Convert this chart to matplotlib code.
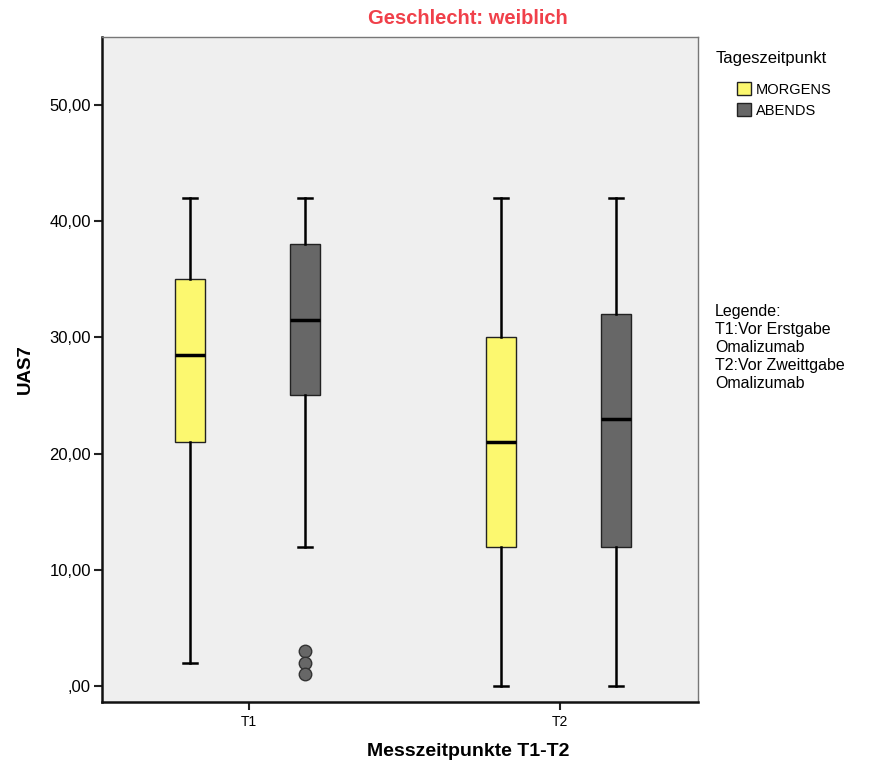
import matplotlib
matplotlib.use("Agg")
import matplotlib.pyplot as plt
from matplotlib.patches import Patch

plt.rcParams['font.family'] = ['Liberation Sans', 'DejaVu Sans']

categories = ["T1", "T2"]
groups = ["MORGENS", "ABENDS"]
colors = {"MORGENS": "#FCF86F", "ABENDS": "#676767"}

# stats: whislo, q1, med, q3, whishi, outliers
morgens_stats = [
    [2, 21, 28.5, 35, 42, []],
    [0, 12, 21, 30, 42, []],
]
abends_stats = [
    [12, 25, 31.5, 38, 42, [3, 2, 1]],
    [0, 12, 23, 32, 42, []],
]
yticks = [0, 10, 20, 30, 40, 50]
ytick_labels = [",00", "10,00", "20,00", "30,00", "40,00", "50,00"]

fig = plt.figure(figsize=(8.92, 7.67), dpi=100)
ax = fig.add_axes([102/892, 1-702/767, (698-102)/892, (702-37)/767])
ax.set_facecolor("#EFEFEF")

offsets = {"MORGENS": -0.19, "ABENDS": 0.18}
width = 0.094
for g, stats_list in (("MORGENS", morgens_stats), ("ABENDS", abends_stats)):
    st = []
    for s in stats_list:
        st.append(dict(whislo=s[0], q1=s[1], med=s[2], q3=s[3], whishi=s[4], fliers=s[5]))
    pos = [i + offsets[g] for i in range(len(categories))]
    ax.bxp(st, positions=pos, widths=width, patch_artist=True, manage_ticks=False,
           boxprops=dict(facecolor=colors[g], edgecolor="#222222", linewidth=1.0),
           medianprops=dict(color="black", linewidth=2.5),
           whiskerprops=dict(color="black", linewidth=1.8),
           capprops=dict(color="black", linewidth=1.8),
           capwidths=width / 2,
           flierprops=dict(marker="o", markerfacecolor="#676767", markeredgecolor="#333333",
                           markersize=9, markeredgewidth=1.0))

ax.set_xlim(-0.473, 1.444)
ax.set_ylim(-1.38, 55.85)
ax.set_xticks(range(len(categories)))
ax.set_xticklabels(categories, fontsize=10)
ax.set_yticks(yticks)
ax.set_yticklabels(ytick_labels, fontsize=12)
ax.tick_params(axis='both', length=6, width=1.5, color="#222222")
ax.tick_params(axis='x', pad=3)
ax.tick_params(axis='y', pad=2)
for sp in ["left", "bottom"]:
    ax.spines[sp].set_linewidth(1.8)
    ax.spines[sp].set_color("#111111")
for sp in ["top", "right"]:
    ax.spines[sp].set_linewidth(1.0)
    ax.spines[sp].set_color("#777777")

ax.set_ylabel("UAS7", fontsize=13.5, fontweight="bold", labelpad=11)
fig.text(468/892, 1-751/767, "Messzeitpunkte T1-T2", ha="center", va="center",
         fontsize=14, fontweight="bold", family=['Liberation Sans Narrow', 'Liberation Sans'])
fig.text(468/892, 1-18/767, "Geschlecht: weiblich", ha="center", va="center",
         fontsize=14.5, fontweight="bold", color="#F0404A",
         family=['Liberation Sans Narrow', 'Liberation Sans'])

fig.text(716/892, 1-58/767, "Tageszeitpunkt", ha="left", va="center", fontsize=12)
handles = [Patch(facecolor=colors[g], edgecolor="#222222", label=g) for g in groups]
leg = fig.legend(handles=handles, loc="upper left",
                 bbox_to_anchor=(727/892, 1-72/767), frameon=False, fontsize=10.5,
                 handlelength=0.95, handleheight=1.0,
                 handletextpad=0.35, labelspacing=0.45, borderpad=0.2)

fig.text(715/892, 1-304/767, "Legende:\nT1:Vor Erstgabe\nOmalizumab\nT2:Vor Zweittgabe\nOmalizumab",
         ha="left", va="top", fontsize=11.5, linespacing=1.24)

fig.savefig("out.png", dpi=100)
